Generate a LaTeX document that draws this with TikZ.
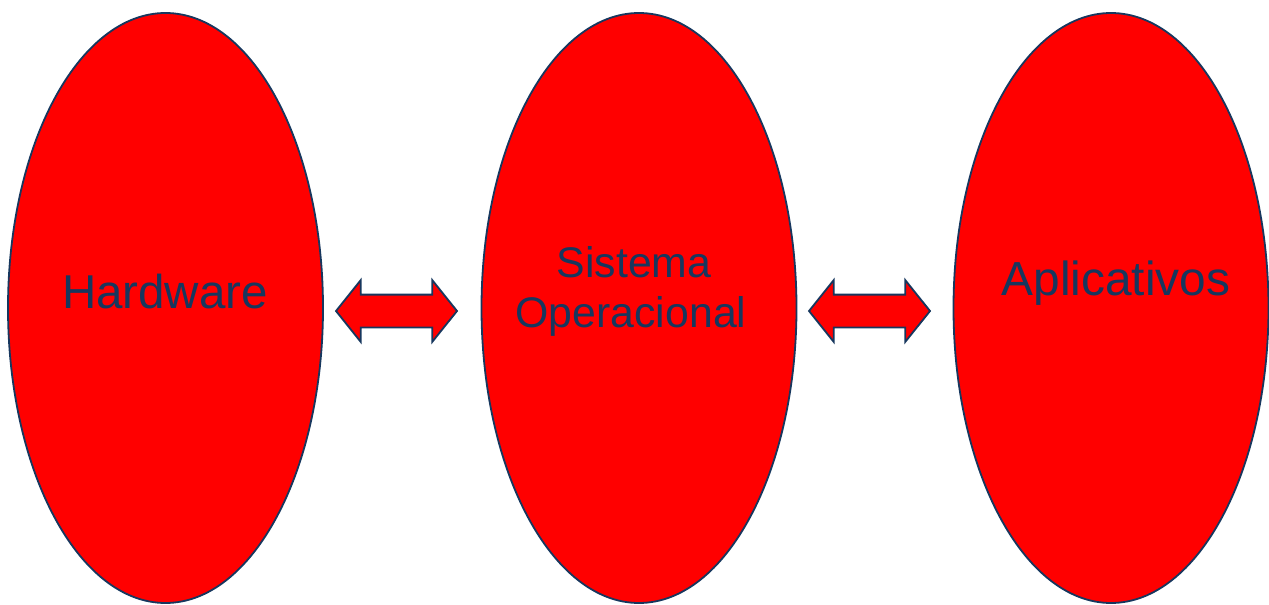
\documentclass[tikz,border=0pt]{standalone}
\usepackage{fontspec}
\setmainfont{Liberation Sans}
\usetikzlibrary{shapes.geometric,shapes.arrows}
\definecolor{navy}{RGB}{23,55,94}
\definecolor{fillred}{RGB}{255,0,0}
\begin{document}
\begin{tikzpicture}[x=1pt,y=-1pt,
  blob/.style={ellipse,draw=navy,fill=fillred,line width=1.8pt,minimum width=315pt,minimum height=590pt,inner sep=0pt},
  dbl/.style={double arrow,draw=navy,fill=fillred,line width=1.8pt,minimum height=121pt,minimum width=60pt,inner sep=15.5pt,
    double arrow head extend=14.5pt,double arrow tip angle=102.6},
  lbl/.style={text=navy,font=\fontsize{47.5}{50}\selectfont,align=center,inner sep=0pt}]
\useasboundingbox (0,0) rectangle (1269,605);
\node[blob] (hw) at (165.5,308) {};
\node[blob] (so) at (639,308) {};
\node[blob] (ap) at (1111,308) {};
\node[dbl] (a1) at (396.5,311) {};
\node[dbl] (a2) at (869.5,311) {};
\node[lbl,anchor=base] (thw) at (165,308) {Hardware};
\node[lbl,anchor=base,font=\fontsize{42.8}{50}\selectfont] (tso1) at (634,277) {Sistema};
\node[lbl,anchor=base,font=\fontsize{42.8}{50}\selectfont] (tso2) at (631,327) {Operacional};
\node[lbl,anchor=base,font=\fontsize{47.8}{50}\selectfont] (tap) at (1116,295) {Aplicativos};
\end{tikzpicture}
\end{document}
